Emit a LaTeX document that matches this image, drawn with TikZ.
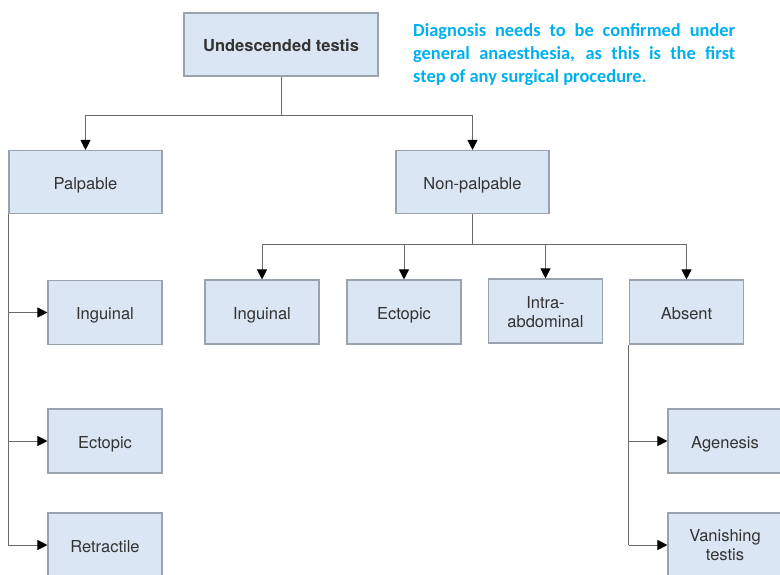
\documentclass[tikz,border=0pt]{standalone}
\usepackage{fontspec}
\setmainfont{TeX Gyre Heros}
\newfontfamily\calfont{Carlito}
\usetikzlibrary{arrows.meta}
\definecolor{boxfill}{HTML}{DAE6F3}
\definecolor{boxdraw}{HTML}{9AA3AD}
\definecolor{linecol}{HTML}{6A6A6A}
\definecolor{txtcol}{HTML}{333333}
\definecolor{notecol}{RGB}{0,176,240}
\tikzset{
  box/.style={draw=boxdraw, fill=boxfill, line width=1.1pt, inner sep=0pt,
    minimum width=114pt, minimum height=64pt, text=txtcol,
    font=\fontsize{16.5}{19}\selectfont},
  one/.style={box, text height=14.5pt, text depth=0pt},
  two/.style={box, align=center},
  widebox/.style={one, minimum width=153pt, minimum height=63pt},
  conn/.style={draw=linecol, line width=1pt},
  arr/.style={conn, -{Triangle[length=10pt,width=10pt,color=black]}}
}
\begin{document}
\begin{tikzpicture}[x=1pt,y=-1pt]
\useasboundingbox (0,0) rectangle (780,574);
\fill[white] (0,0) rectangle (780,574);
% top
\node[widebox, minimum width=194pt] (ut) at (281,44.5) {\bfseries Undescended testis};
\node[anchor=north west, inner sep=0pt, text=notecol] (note) at (413,23)
  {\parbox{322pt}{\calfont\bfseries\fontsize{18.4}{23}\selectfont
   Diagnosis needs to be confirmed under\linebreak general anaesthesia, as this is the first\linebreak step of any surgical procedure.}};
% level 2
\node[widebox] (pal) at (85.5,182) {Palpable};
\node[widebox] (np) at (472.5,182) {Non-palpable};
% non-palpable children
\node[one] (ing2) at (262,312) {Inguinal};
\node[one] (ect2) at (404,312) {Ectopic};
\node[two] (intra) at (545.5,311) {\rule{0pt}{15pt}Intra-\\abdominal};
\node[one] (abs) at (686.5,312) {Absent};
% palpable children
\node[one] (ing1) at (105,312.5) {Inguinal};
\node[one] (ect1) at (105,441) {Ectopic};
\node[one] (ret) at (105,545) {Retractile};
% absent children
\node[one] (age) at (725,441) {Agenesis};
\node[two] (van) at (725,545) {\rule{0pt}{13pt}Vanishing\\testis};
% connectors top
\coordinate (j1) at (281,115);
\draw[conn] (ut.south) -- (j1);
\draw[arr] (j1) -| (pal.north);
\draw[arr] (j1) -| (np.north);
% connectors non-palpable
\coordinate (j2) at (472.5,244);
\draw[conn] (np.south) -- (j2);
\draw[arr] (j2) -| (ing2.north);
\draw[arr] (j2) -| (ect2.north);
\draw[arr] (j2) -| (intra.north);
\draw[arr] (j2) -| (abs.north);
% palpable branches
\coordinate (pb1) at (pal.south west |- ing1.west);
\coordinate (pb2) at (pal.south west |- ect1.west);
\coordinate (pb3) at (pal.south west |- ret.west);
\draw[conn] (pal.south west) -- (pb3);
\draw[arr] (pb1) -- (ing1.west);
\draw[arr] (pb2) -- (ect1.west);
\draw[arr] (pb3) -- (ret.west);
% absent branches
\coordinate (ab1) at (abs.south west |- age.west);
\coordinate (ab2) at (abs.south west |- van.west);
\draw[conn] (abs.south west) -- (ab2);
\draw[arr] (ab1) -- (age.west);
\draw[arr] (ab2) -- (van.west);
\end{tikzpicture}
\end{document}
